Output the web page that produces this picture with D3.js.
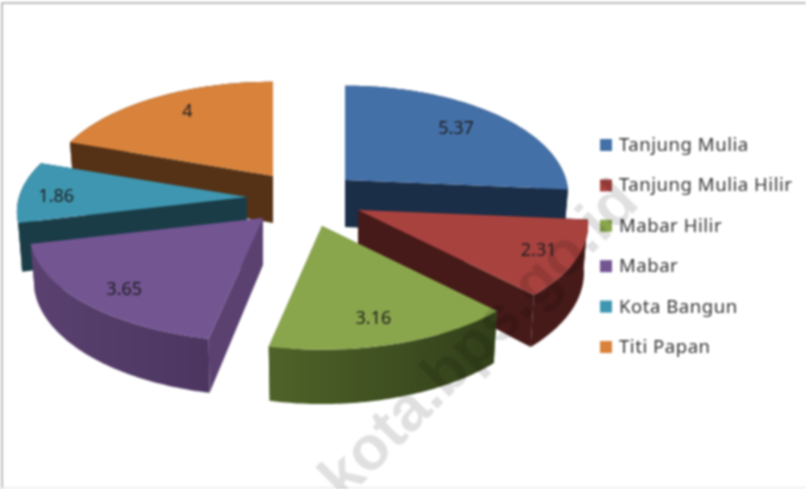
<!DOCTYPE html>
<html><head><meta charset="utf-8">
<script src="https://cdn.jsdelivr.net/npm/d3@7"></script>
<style>
html,body{margin:0;padding:0;background:#fff;overflow:hidden}
svg{display:block;filter:blur(0.85px)}
</style></head><body>
<svg id="c" width="806" height="489"></svg>
<script>
const categories = ["Tanjung Mulia","Tanjung Mulia Hilir","Mabar Hilir","Mabar","Kota Bangun","Titi Papan"];
const values = [5.37,2.31,3.16,3.65,1.86,4];
const valueLabels = ["5.37","2.31","3.16","3.65","1.86","4"];
const watermark = "kota.bps.go.id";

// layout & style (not data)
const W=806,H=489;
const apexes=[[345,180],[358,210],[322,226],[263,218],[247,197],[273,176]];
const widthScale=[0.97,1,0.995,1.015,1,0.985];
const labelNudge=[[-7,0],[8,1],[-6,-1],[2,4],[-12,3],[7,-3]];
const topColors=["#4470A8","#A8423F","#8AA64C","#735592","#3F96B0","#D8823B"];
const wallColors=["#1A2E47","#451A18","#4F6329","#5A4170","#1A3C47","#553216"];
const wallEnd=["#1A2E47","#451A18","#323F1A","#4C3660","#1A3C47","#553216"];
const drawOrder=[0,5,4,1,3,2];
const RX=228,RY=107,K=0.135,DEPTH=47,BOTTOM=0.982;

const svg=d3.select("#c");
const defs=svg.append("defs");
const pie=d3.pie().sort(null).value(d=>d);
const arcs=pie(values);

function proj(i,th,r=1){
  const a=apexes[i],f=1/(1+K*Math.cos(th));
  return [a[0]+RX*widthScale[i]*r*Math.sin(th)*f, a[1]-RY*r*Math.cos(th)*f];
}
function projB(i,th,r=1){
  const a=apexes[i],f=1/(1+K*Math.cos(th));
  return [a[0]+RX*widthScale[i]*BOTTOM*r*Math.sin(th)*f, a[1]-RY*r*Math.cos(th)*f+DEPTH*f];
}
const line=d3.line();
const samples=(s,e)=>d3.range(0,61).map(i=>s+(e-s)*i/60);

categories.forEach((c,i)=>{
  const g=defs.append("linearGradient").attr("id","wall"+i);
  g.append("stop").attr("offset","0").attr("stop-color",wallColors[i]);
  g.append("stop").attr("offset","1").attr("stop-color",wallEnd[i]);
});

const gp=svg.append("g");
drawOrder.forEach(i=>{
  const d=arcs[i],a=apexes[i],g=gp.append("g");
  const s=d.startAngle,e=d.endAngle;
  const aB=[a[0],a[1]+DEPTH];
  [s,e].forEach(th=>{
    g.append("path").attr("d",line([a,proj(i,th),projB(i,th),aB])+"Z")
      .attr("fill",wallColors[i]);
  });
  const ts=samples(s,e);
  g.append("path").attr("d",line(ts.map(t=>proj(i,t)).concat(ts.slice().reverse().map(t=>projB(i,t))))+"Z")
    .attr("fill",`url(#wall${i})`);
  g.append("path").attr("d",line([a].concat(ts.map(t=>proj(i,t))))+"Z")
    .attr("fill",topColors[i]);
});

// value labels
const lab=svg.append("g").attr("font-family","'Noto Sans',sans-serif").attr("font-size",18).attr("fill","#1d1d1d").attr("text-anchor","middle");
arcs.forEach((d,i)=>{
  const p=proj(i,(d.startAngle+d.endAngle)/2,0.79);
  lab.append("text").attr("x",p[0]+labelNudge[i][0]).attr("y",p[1]+6+labelNudge[i][1]).text(valueLabels[i]);
});

// legend
const ly=d3.scalePoint().domain(categories).range([145,347]);
const lg=svg.append("g").selectAll("g").data(categories).join("g").attr("transform",d=>`translate(600,${ly(d)})`);
lg.append("rect").attr("x",0).attr("y",-6).attr("width",12).attr("height",12).attr("fill",(d,i)=>topColors[i]);
lg.append("text").attr("x",19).attr("y",6).attr("font-family","'Noto Sans',sans-serif").attr("font-size",18.5).attr("letter-spacing",0.55).attr("fill","#333").text(d=>d);

// frame
const fr=svg.append("g");
fr.append("rect").attr("x",1).attr("y",2).attr("width",2).attr("height",H-2).attr("fill","#bdbdbd");
fr.append("rect").attr("x",1).attr("y",2).attr("width",W).attr("height",2).attr("fill","#bdbdbd");
fr.append("rect").attr("x",1).attr("y",487).attr("width",W).attr("height",1).attr("fill","#e6e6e6");

// watermark
svg.append("text").attr("transform","translate(344,502) rotate(-45)")
  .attr("font-family","'Liberation Sans',Arial,sans-serif").attr("font-weight","bold").attr("font-size",62)
  .attr("fill","#000").attr("fill-opacity",0.12).text(watermark);
</script></body></html>
